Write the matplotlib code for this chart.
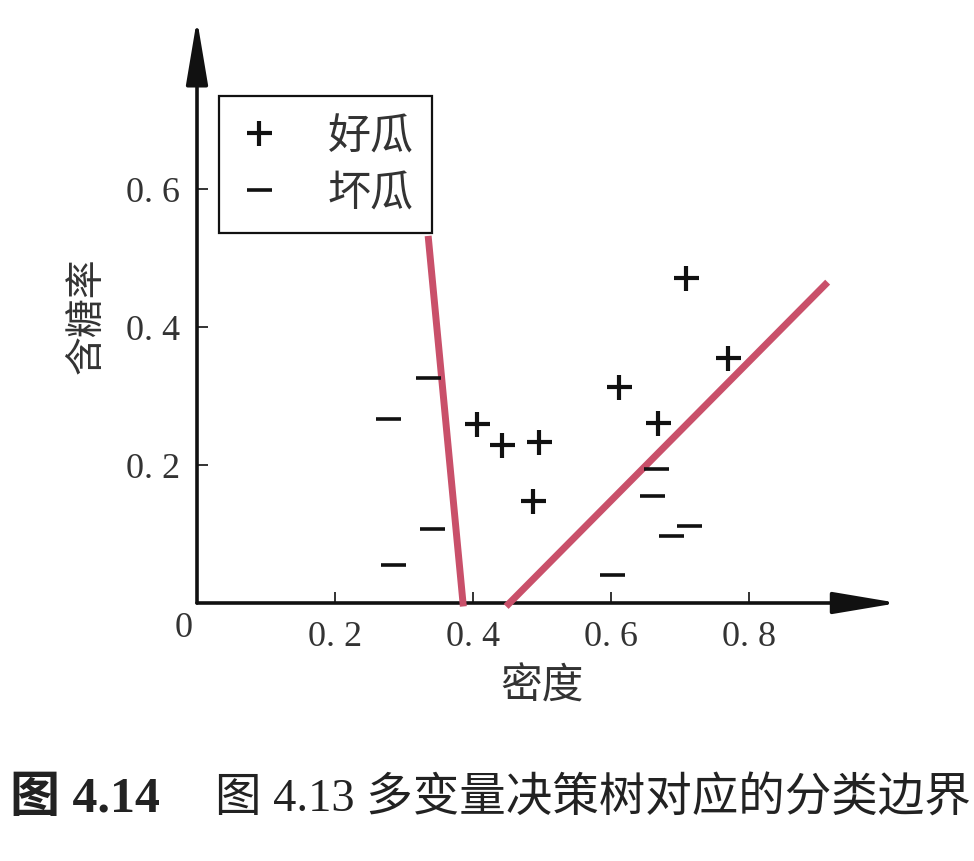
import matplotlib
matplotlib.use("Agg")
import matplotlib.pyplot as plt

CJK = ["Noto Sans CJK SC", "DejaVu Sans"]
SERIF_CJK = ["Liberation Serif", "Noto Sans CJK SC"]

# watermelon samples: (density, sugar)
good_density = [0.406, 0.442, 0.496, 0.487, 0.612, 0.668, 0.709, 0.770]
good_sugar = [0.259, 0.229, 0.233, 0.148, 0.313, 0.261, 0.471, 0.355]
bad_density = [0.335, 0.277, 0.341, 0.284, 0.665, 0.659, 0.687, 0.713, 0.601]
bad_sugar = [0.326, 0.267, 0.107, 0.055, 0.194, 0.155, 0.097, 0.112, 0.041]

# multivariate tree boundaries (end points)
boundary1_x = [0.335, 0.386]
boundary1_y = [0.532, -0.005]
boundary2_x = [0.448, 0.914]
boundary2_y = [-0.005, 0.465]

xticks = [0.2, 0.4, 0.6, 0.8]
xtick_labels = ["0. 2", "0. 4", "0. 6", "0. 8"]
yticks = [0.2, 0.4, 0.6]
ytick_labels = ["0. 2", "0. 4", "0. 6"]

RED = "#C9506A"
INK = "#111111"
GREY = "#333333"

W, H = 974, 862
fig = plt.figure(figsize=(W / 100, H / 100), dpi=100)
unit = 690
x0, y0 = 197, 604
xmax, ymax = 1.0, 0.835
ax = fig.add_axes([x0 / W, (H - y0) / H, unit * xmax / W, unit * ymax / H])
ax.set_xlim(0, xmax)
ax.set_ylim(0, ymax)
for s in ax.spines.values():
    s.set_visible(False)

# axes with arrow heads
arrow = dict(arrowstyle="-|>,head_length=2.5,head_width=0.42", mutation_scale=16,
             lw=2.6, color=INK, shrinkA=0, shrinkB=0)
ax.annotate("", xy=(1.016, 0), xytext=(0, 0), arrowprops=arrow, annotation_clip=False)
ax.annotate("", xy=(0, 0.846), xytext=(0, 0), arrowprops=arrow, annotation_clip=False)

ax.set_xticks(xticks)
ax.set_xticklabels(xtick_labels)
ax.set_yticks(yticks)
ax.set_yticklabels(ytick_labels)
ax.tick_params(direction="in", length=8, width=1.2, color=INK, labelsize=26, pad=12)
for lab in ax.get_xticklabels() + ax.get_yticklabels():
    lab.set_family("Liberation Serif")
    lab.set_color(GREY)
ax.text(-0.02, -0.012, "0", ha="center", va="top", fontsize=26, family="Liberation Serif",
        color=GREY, transform=ax.transData, clip_on=False)

ax.plot(boundary1_x, boundary1_y, color=RED, lw=5, solid_capstyle="butt", clip_on=False, zorder=3)
ax.plot(boundary2_x, boundary2_y, color=RED, lw=5, solid_capstyle="butt", clip_on=False, zorder=3)

h1, = ax.plot(good_density, good_sugar, ls="none", marker="+", ms=18, mew=3, color=INK,
              label="好瓜", zorder=4)
h2, = ax.plot(bad_density, bad_sugar, ls="none", marker="_", ms=18, mew=2.6, color=INK,
              label="坏瓜", zorder=4)

leg = fig.legend(handles=[h1, h2], loc="upper left", bbox_to_anchor=(219 / W, 1 - 97 / H),
                 prop={"family": CJK, "size": 31}, frameon=True, fancybox=False,
                 edgecolor=INK, framealpha=1, handlelength=1.0, handletextpad=1.1,
                 borderpad=0.42, labelspacing=0.3, borderaxespad=0)
leg.get_frame().set_linewidth(1.6)
for t in leg.get_texts():
    t.set_color(GREY)

ax.set_xlabel("密度", family=CJK, fontsize=30, color=GREY, labelpad=9)
ax.set_ylabel("含糖率", family=CJK, fontsize=28, color=GREY, labelpad=14)

fig.text(10 / W, 1 - 800 / H, "图 4.14", family=SERIF_CJK, fontsize=36, fontweight="bold",
         ha="left", va="center", color="#222222")
fig.text(215 / W, 1 - 800 / H, "图 4.13 多变量决策树对应的分类边界", family=SERIF_CJK,
         fontsize=33.5, ha="left", va="center", color="#222222")

fig.savefig("out.png", dpi=100)
